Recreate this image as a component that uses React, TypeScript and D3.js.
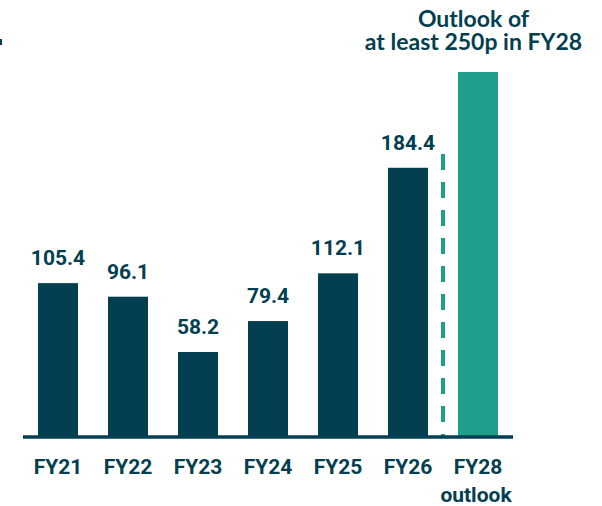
import React from "react";
import * as d3 from "d3";

// Earnings per share (pence) by financial year
const categories = ["FY21", "FY22", "FY23", "FY24", "FY25", "FY26", "FY28"];
const actualValues = [105.4, 96.1, 58.2, 79.4, 112.1, 184.4];
const outlookValue = 250;
const outlookTitle = ["Outlook of", "at least 250p in FY28"];
const categoryLabels = [["FY21"], ["FY22"], ["FY23"], ["FY24"], ["FY25"], ["FY26"], ["FY28", "outlook"]];

const W = 602;
const H = 506;
const DARK = "#033f50";
const TEAL = "#1f9e8c";
const LABEL_FONT = "Roboto, 'Liberation Sans', sans-serif";
const TITLE_FONT = "Lato, 'Open Sans', sans-serif";

export default function App() {
  const baseline = 437;
  const x = d3
    .scaleBand<string>()
    .domain(categories)
    .range([23, 513])
    .paddingInner(3 / 7)
    .paddingOuter(0.2143);
  const y = d3.scaleLinear().domain([0, outlookValue]).range([baseline, 72]);
  const bw = x.bandwidth();
  const step = x.step();

  const values = [...actualValues, outlookValue];
  const dividerX = (x("FY26") as number) + bw + (step - bw) / 2;
  const outlookCenter = (x("FY28") as number) + bw / 2 - 4.5;

  return (
    <svg
      width={W}
      height={H}
      viewBox={`0 0 ${W} ${H}`}
      style={{ position: "absolute", left: 0, top: 0, background: "#fff" }}
    >
      <rect x={0} y={39} width={2} height={6} fill={DARK} />

      {values.map((v, i) => {
        const c = categories[i];
        const isOutlook = i === values.length - 1;
        return (
          <rect
            key={c}
            x={x(c)}
            y={y(v)}
            width={bw}
            height={baseline - y(v)}
            fill={isOutlook ? TEAL : DARK}
          />
        );
      })}

      {actualValues.map((v, i) => (
        <text
          key={"v" + i}
          x={(x(categories[i]) as number) + bw / 2}
          y={y(v) - 18}
          textAnchor="middle"
          fontFamily={LABEL_FONT}
          fontWeight="bold"
          fontSize={21}
          fill={DARK}
        >
          {v.toFixed(1)}
        </text>
      ))}

      <line
        x1={dividerX}
        x2={dividerX}
        y1={154}
        y2={baseline}
        stroke={TEAL}
        strokeWidth={4}
        strokeDasharray="16 12"
      />

      <line x1={23} x2={513} y1={baseline} y2={baseline} stroke={DARK} strokeWidth={3.5} />

      {categoryLabels.map((lines, i) => (
        <text
          key={"c" + i}
          x={(x(categories[i]) as number) + bw / 2}
          y={474}
          textAnchor="middle"
          fontFamily={LABEL_FONT}
          fontWeight="bold"
          fontSize={21}
          fill={DARK}
        >
          {lines.map((l, j) => (
            <tspan key={j} x={(x(categories[i]) as number) + bw / 2 - (j > 0 ? 2 : 0)} dy={j === 0 ? 0 : 28}>
              {l}
            </tspan>
          ))}
        </text>
      ))}

      {outlookTitle.map((t, i) => (
        <text
          key={"t" + i}
          x={outlookCenter}
          y={27 + i * 22.5}
          textAnchor="middle"
          fontFamily={TITLE_FONT}
          fontWeight="bold"
          fontSize={23}
          fill={DARK}
        >
          {t}
        </text>
      ))}
    </svg>
  );
}
